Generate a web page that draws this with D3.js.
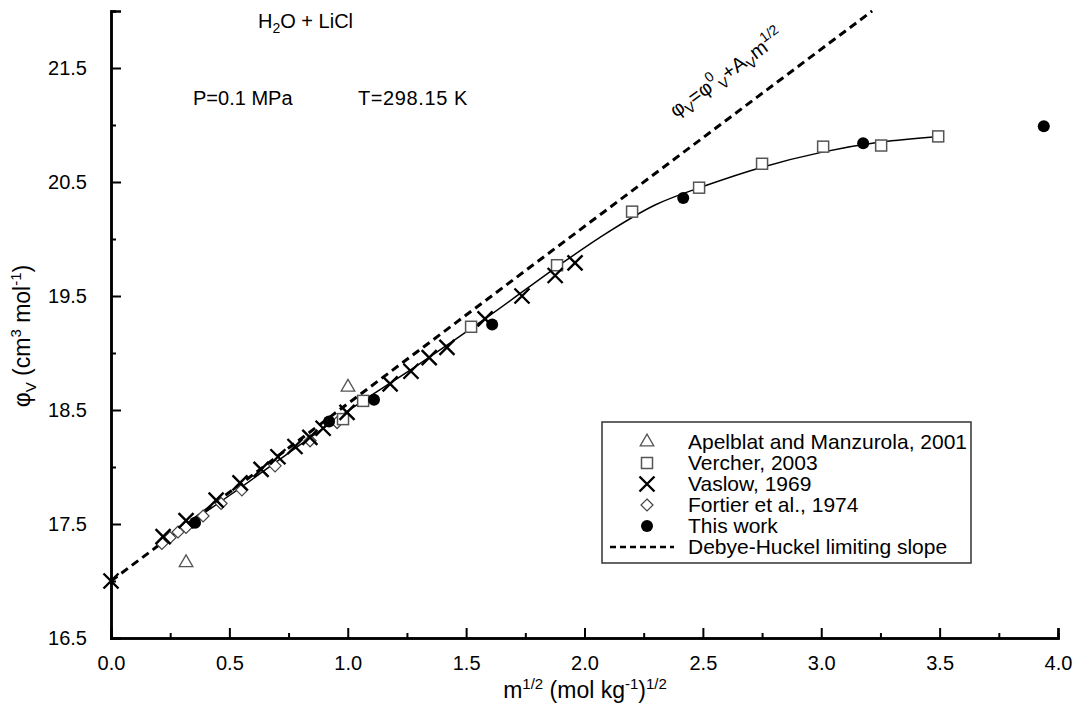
<!DOCTYPE html>
<html>
<head>
<meta charset="utf-8">
<script src="https://cdn.jsdelivr.net/npm/d3@7"></script>
<style>
  body { margin: 0; background: #fff; }
  svg text { font-family: "Liberation Sans", Arial, sans-serif; fill: #000; }
</style>
</head>
<body>
<div id="chart"></div>
<script>
// values
var apelblatX = [0.317, 1.001];
var apelblatY = [17.16, 18.70];

var vercherX = [0.98, 1.065, 1.521, 1.884, 2.201, 2.484, 2.75, 3.008, 3.253, 3.494];
var vercherY = [18.42, 18.58, 19.23, 19.77, 20.24, 20.45, 20.66, 20.81, 20.82, 20.90];

var vaslowX = [0, 0.22, 0.317, 0.444, 0.545, 0.634, 0.705, 0.777, 0.84, 0.896, 0.997, 1.179, 1.267, 1.344, 1.419, 1.58, 1.736, 1.876, 1.96];
var vaslowY = [17.0, 17.39, 17.53, 17.71, 17.86, 17.98, 18.09, 18.18, 18.26, 18.34, 18.48, 18.73, 18.84, 18.96, 19.05, 19.30, 19.50, 19.68, 19.79];

var fortierX = [0.215, 0.249, 0.283, 0.317, 0.389, 0.465, 0.553, 0.693, 0.841, 0.955];
var fortierY = [17.33, 17.38, 17.43, 17.47, 17.57, 17.68, 17.80, 18.01, 18.23, 18.39];

var thisWorkX = [0.355, 0.921, 1.111, 1.61, 2.417, 3.177, 3.94];
var thisWorkY = [17.51, 18.40, 18.59, 19.25, 20.36, 20.84, 20.99];

// smooth fit through the data
var fitX = [0.2, 0.5, 1.0, 1.3, 1.6, 1.9, 2.1, 2.3, 2.5, 2.75, 3.0, 3.25, 3.5];
var fitY = [17.32, 17.75, 18.49, 18.90, 19.33, 19.78, 20.06, 20.30, 20.46, 20.63, 20.76, 20.85, 20.90];

// Debye-Huckel limiting slope
var dhX = [0, 3.215];
var dhY = [17.0, 22.0];

var xMajor = [0, 0.5, 1, 1.5, 2, 2.5, 3, 3.5, 4];
var xMinor = [0.25, 0.75, 1.25, 1.75, 2.25, 2.75, 3.25, 3.75];
var yMajor = [16.5, 17.5, 18.5, 19.5, 20.5, 21.5];
var yMinor = [17, 18, 19, 20, 21];

var legendLabels = ["Apelblat and Manzurola, 2001", "Vercher, 2003", "Vaslow, 1969", "Fortier et al., 1974", "This work", "Debye-Huckel limiting slope"];

var svgWidth = 1081;
var svgHeight = 714;

var svg = d3.select("#chart").append("svg").attr("width", svgWidth).attr("height", svgHeight);

var x = d3.scaleLinear().domain([0, 4]).range([111, 1058]);
var y = d3.scaleLinear().domain([16.5, 22]).range([638, 11]);

function zip(xs, ys) { return xs.map(function(v, i) { return {x: v, y: ys[i]}; }); }

// axes
var xAxisMajor = d3.axisBottom(x).tickValues(xMajor).tickSize(-10).tickPadding(18).tickFormat(d3.format(".1f"));
var xAxisMinor = d3.axisBottom(x).tickValues(xMinor).tickSize(-5).tickFormat("");
var yAxisMajor = d3.axisLeft(y).tickValues(yMajor).tickSize(-10).tickPadding(24).tickFormat(d3.format(".1f"));
var yAxisMinor = d3.axisLeft(y).tickValues(yMinor).tickSize(-5).tickFormat("");

var gx = svg.append("g").attr("transform", "translate(0,638)").call(xAxisMajor);
svg.append("g").attr("transform", "translate(0,638)").call(xAxisMinor);
var gy = svg.append("g").attr("transform", "translate(111,0)").call(yAxisMajor);
svg.append("g").attr("transform", "translate(111,0)").call(yAxisMinor);

svg.selectAll(".domain").attr("stroke", "#000").attr("stroke-width", 2.5);
svg.selectAll(".tick line").attr("stroke", "#000").attr("stroke-width", 2);
svg.selectAll(".tick text").attr("font-size", 20).attr("font-family", "Liberation Sans, Arial, sans-serif").attr("fill", "#000");
gx.selectAll(".tick text").attr("dy", "0.71em");

// axis titles
var xt = svg.append("text").attr("x", 585).attr("y", 698).attr("text-anchor", "middle").attr("font-size", 23);
xt.append("tspan").text("m");
xt.append("tspan").attr("font-size", 15).attr("dy", -9).text("1/2");
xt.append("tspan").attr("dy", 9).text(" (mol kg");
xt.append("tspan").attr("font-size", 15).attr("dy", -9).text("-1");
xt.append("tspan").attr("dy", 9).text(")");
xt.append("tspan").attr("font-size", 15).attr("dy", -9).text("1/2");

var yt = svg.append("text").attr("transform", "translate(30,336) rotate(-90)").attr("text-anchor", "middle").attr("font-size", 23);
yt.append("tspan").text("\u03c6");
yt.append("tspan").attr("font-size", 15).attr("dy", 6).text("V");
yt.append("tspan").attr("dy", -6).text(" (cm");
yt.append("tspan").attr("font-size", 15).attr("dy", -9).text("3");
yt.append("tspan").attr("dy", 9).text(" mol");
yt.append("tspan").attr("font-size", 15).attr("dy", -9).text("-1");
yt.append("tspan").attr("dy", 9).text(")");

// Debye-Huckel line
var line = d3.line().x(function(d) { return x(d.x); }).y(function(d) { return y(d.y); });
svg.append("path").datum(zip(dhX, dhY)).attr("d", line)
  .attr("fill", "none").attr("stroke", "#000").attr("stroke-width", 3).attr("stroke-dasharray", "8,5");

// fit curve
svg.append("path").datum(zip(fitX, fitY)).attr("d", line.curve(d3.curveCatmullRom))
  .attr("fill", "none").attr("stroke", "#000").attr("stroke-width", 1.5);

// markers
var triSym = d3.symbol().type(d3.symbolTriangle).size(80);
var diaSym = "M0,-6L6,0L0,6L-6,0Z";

function drawTri(g, px, py) {
  g.append("path").attr("transform", "translate(" + px + "," + py + ")").attr("d", triSym())
    .attr("fill", "#fff").attr("stroke", "#555").attr("stroke-width", 1.3);
}
function drawSquare(g, px, py) {
  g.append("rect").attr("x", px - 5.5).attr("y", py - 5.5).attr("width", 11).attr("height", 11)
    .attr("fill", "#fff").attr("stroke", "#555").attr("stroke-width", 1.5);
}
function drawCross(g, px, py) {
  var s = 7.5;
  g.append("path").attr("d", "M" + (px - s) + "," + (py - s) + "L" + (px + s) + "," + (py + s) + "M" + (px - s) + "," + (py + s) + "L" + (px + s) + "," + (py - s))
    .attr("stroke", "#000").attr("stroke-width", 2.4).attr("fill", "none");
}
function drawDiamond(g, px, py) {
  g.append("path").attr("transform", "translate(" + px + "," + py + ")").attr("d", diaSym)
    .attr("fill", "#fff").attr("stroke", "#444").attr("stroke-width", 1.2);
}
function drawDot(g, px, py) {
  g.append("circle").attr("cx", px).attr("cy", py).attr("r", 6).attr("fill", "#000");
}

var marks = svg.append("g");
zip(fortierX, fortierY).forEach(function(d) { drawDiamond(marks, x(d.x), y(d.y)); });
zip(vercherX, vercherY).forEach(function(d) { drawSquare(marks, x(d.x), y(d.y)); });
zip(apelblatX, apelblatY).forEach(function(d) { drawTri(marks, x(d.x), y(d.y)); });
zip(vaslowX, vaslowY).forEach(function(d) { drawCross(marks, x(d.x), y(d.y)); });
zip(thisWorkX, thisWorkY).forEach(function(d) { drawDot(marks, x(d.x), y(d.y)); });

// annotations
var t1 = svg.append("text").attr("x", 258).attr("y", 28).attr("font-size", 20);
t1.append("tspan").text("H");
t1.append("tspan").attr("font-size", 14).attr("dy", 5).text("2");
t1.append("tspan").attr("dy", -5).text("O + LiCl");

svg.append("text").attr("x", 193).attr("y", 105).attr("font-size", 20).text("P=0.1 MPa");
svg.append("text").attr("x", 358).attr("y", 105).attr("font-size", 20).attr("letter-spacing", 0.6).text("T=298.15 K");

var eq = svg.append("text").attr("transform", "translate(676,118) rotate(-36)").attr("font-size", 20);
eq.append("tspan").text("\u03c6");
eq.append("tspan").attr("font-size", 14).attr("dy", 5).text("V");
eq.append("tspan").attr("dy", -5).text("=\u03c6");
eq.append("tspan").attr("font-size", 14).attr("dy", -9).text("0");
eq.append("tspan").attr("font-size", 14).attr("dy", 14).text("V");
eq.append("tspan").attr("dy", -5).text("+A");
eq.append("tspan").attr("font-size", 14).attr("dy", 5).text("V");
eq.append("tspan").attr("dy", -5).text("m");
eq.append("tspan").attr("font-size", 14).attr("dy", -9).text("1/2");

// legend
var legend = svg.append("g");
legend.append("rect").attr("x", 602).attr("y", 422).attr("width", 369).attr("height", 141)
  .attr("fill", "#fff").attr("stroke", "#333").attr("stroke-width", 1.5);

legendLabels.forEach(function(label, i) {
  var ly = 442 + i * 21;
  var sx = 647;
  if (i === 0) drawTri(legend, sx, ly);
  else if (i === 1) drawSquare(legend, sx, ly);
  else if (i === 2) drawCross(legend, sx, ly);
  else if (i === 3) drawDiamond(legend, sx, ly);
  else if (i === 4) drawDot(legend, sx, ly);
  else legend.append("line").attr("x1", 610).attr("x2", 674).attr("y1", ly).attr("y2", ly)
    .attr("stroke", "#000").attr("stroke-width", 2.5).attr("stroke-dasharray", "6,4");
  legend.append("text").attr("x", 688).attr("y", ly).attr("dy", "0.35em").attr("font-size", 21).text(label);
});
</script>
</body>
</html>
